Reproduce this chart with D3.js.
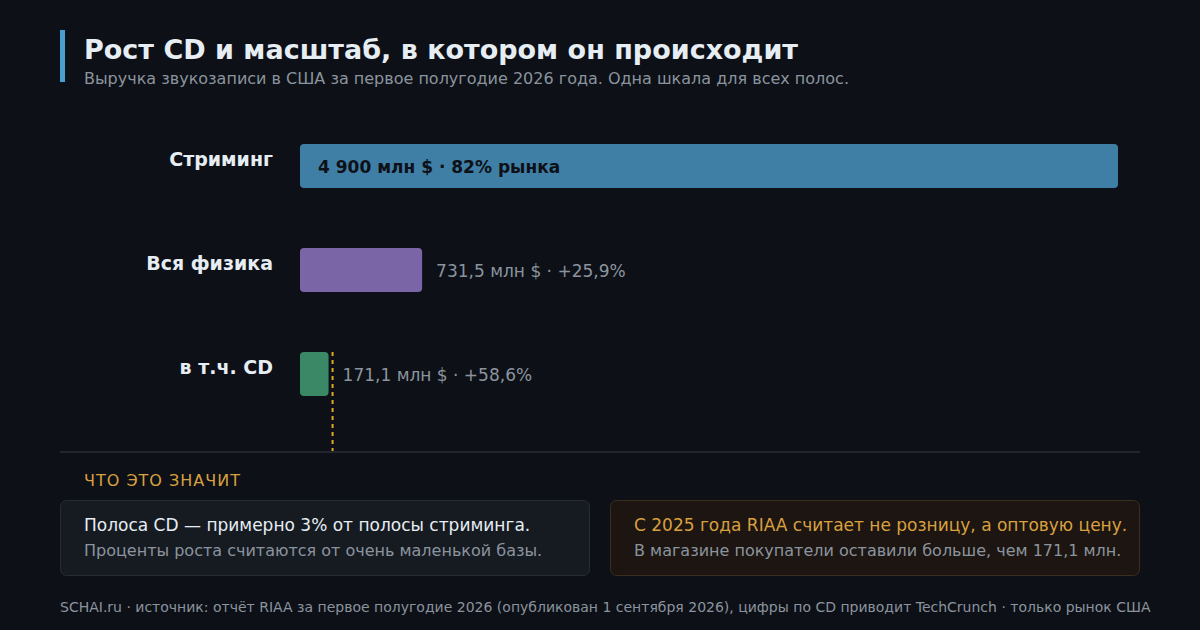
<!DOCTYPE html>
<html><head><meta charset="utf-8">
<script src="https://cdn.jsdelivr.net/npm/d3@7"></script>
<style>html,body{margin:0;padding:0;background:#0d1017;}svg{display:block;font-family:"DejaVu Sans",sans-serif;}</style>
</head><body>
<script>
const categories = ["Стриминг", "Вся физика", "в т.ч. CD"];
const values = [4900, 731.5, 171.1];
const valueLabels = ["4 900 млн $ · 82% рынка", "731,5 млн $ · +25,9%", "171,1 млн $ · +58,6%"];
const colors = ["#3f7fa6", "#7a66a6", "#3a8865"];
const title = "Рост CD и масштаб, в котором он происходит";
const subtitle = "Выручка звукозаписи в США за первое полугодие 2026 года. Одна шкала для всех полос.";
const footer = "SCHAI.ru · источник: отчёт RIAA за первое полугодие 2026 (опубликован 1 сентября 2026), цифры по CD приводит TechCrunch · только рынок США";

const W = 1200, H = 630;
const svg = d3.select("body").append("svg").attr("width", W).attr("height", H);
svg.append("rect").attr("width", W).attr("height", H).attr("fill", "#0d1017");

// header
svg.append("rect").attr("x", 60).attr("y", 30).attr("width", 5).attr("height", 52).attr("fill", "#4a9fd0");
svg.append("text").attr("x", 84).attr("y", 59).attr("fill", "#e6edf3").attr("font-size", 27).attr("font-weight", "bold").text(title);
svg.append("text").attr("x", 84).attr("y", 84).attr("fill", "#8b949e").attr("font-size", 16).text(subtitle);

// scales
const x = d3.scaleLinear().domain([0, 4900]).range([300, 1118]);
const yb = d3.scaleBand().domain(categories).range([144, 144 + 104*3 - 60]).paddingInner(60/104);

const g = svg.append("g");
categories.forEach((c, i) => {
  const by = yb(c), bh = yb.bandwidth();
  g.append("rect").attr("x", x(0)).attr("y", by).attr("width", x(values[i]) - x(0)).attr("height", bh)
    .attr("rx", 4).attr("fill", colors[i]);
  g.append("text").attr("x", 273).attr("y", by + bh/2 - 7).attr("dy", "0.35em").attr("text-anchor", "end")
    .attr("fill", "#e6edf3").attr("font-size", 19).attr("font-weight", "bold").text(c);
  if (i === 0) {
    g.append("text").attr("x", x(0) + 18).attr("y", by + bh/2 + 1).attr("dy", "0.35em")
      .attr("fill", "#0d1117").attr("font-size", 17).attr("font-weight", "bold").text(valueLabels[i]);
  } else {
    g.append("text").attr("x", x(values[i]) + 14).attr("y", by + bh/2 + 1).attr("dy", "0.35em")
      .attr("fill", "#8b949e").attr("font-size", 17).text(valueLabels[i]);
  }
});
// dashed marker at CD end
const cd = categories[2];
g.append("line").attr("x1", x(values[2]) + 4).attr("x2", x(values[2]) + 4)
  .attr("y1", yb(cd)).attr("y2", 452).attr("stroke", "#e3a52e").attr("stroke-width", 2).attr("stroke-dasharray", "4,4");

// separator
svg.append("line").attr("x1", 60).attr("x2", 1140).attr("y1", 452).attr("y2", 452).attr("stroke", "#21262d").attr("stroke-width", 2);

svg.append("text").attr("x", 84).attr("y", 486).attr("fill", "#d9a040").attr("font-size", 16).attr("letter-spacing", 1).text("ЧТО ЭТО ЗНАЧИТ");

// cards
svg.append("rect").attr("x", 60.5).attr("y", 500.5).attr("width", 529).attr("height", 75).attr("rx", 6)
  .attr("fill", "#161b22").attr("stroke", "#262c36");
svg.append("text").attr("x", 84).attr("y", 531).attr("fill", "#e6edf3").attr("font-size", 17).text("Полоса CD — примерно 3% от полосы стриминга.");
svg.append("text").attr("x", 84).attr("y", 556).attr("fill", "#8b949e").attr("font-size", 16).text("Проценты роста считаются от очень маленькой базы.");

svg.append("rect").attr("x", 610.5).attr("y", 500.5).attr("width", 529).attr("height", 75).attr("rx", 6)
  .attr("fill", "#1c1511").attr("stroke", "#3b2e1d");
svg.append("text").attr("x", 634).attr("y", 531).attr("fill", "#d9a040").attr("font-size", 17).text("С 2025 года RIAA считает не розницу, а оптовую цену.");
svg.append("text").attr("x", 634).attr("y", 556).attr("fill", "#8b949e").attr("font-size", 16).text("В магазине покупатели оставили больше, чем 171,1 млн.");

svg.append("text").attr("x", 60).attr("y", 612).attr("fill", "#8b949e").attr("font-size", 14).text(footer);
</script>
</body></html>
